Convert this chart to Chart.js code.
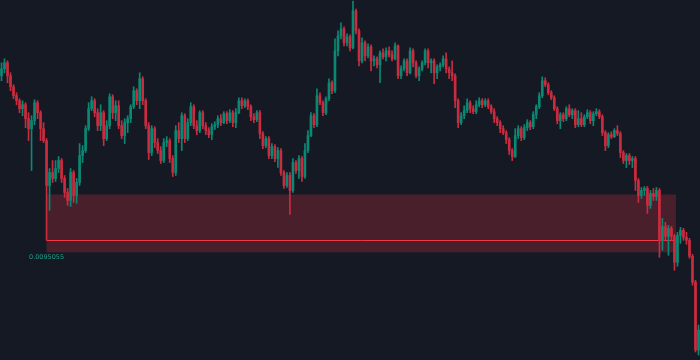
<!DOCTYPE html>
<html>
<head>
<meta charset="utf-8">
<script src="https://cdn.jsdelivr.net/npm/chart.js@4"></script>
<style>
    html, body { margin: 0; padding: 0; background: #151924; }
    #wrap { width: 700px; height: 360px; }
</style>
</head>
<body>
<div id="wrap"><canvas id="priceChart"></canvas></div>
<script>
// -------- Datos (precio en unidades del gráfico) --------

const firstOpen = 285;

const closes = [
    292, 298, 285, 274, 265, 260, 252, 256, 242, 232,
    240, 258, 248, 232, 220, 175, 188, 182, 192, 200,
    182, 168, 160, 188, 165, 178, 205, 210, 232, 252,
    260, 248, 235, 248, 222, 235, 264, 248, 255, 235,
    225, 238, 242, 254, 270, 260, 282, 260, 235, 208,
    232, 218, 210, 200, 218, 220, 202, 188, 230, 222,
    245, 222, 238, 254, 235, 230, 248, 235, 230, 226,
    234, 236, 242, 238, 247, 240, 248, 238, 248, 260,
    255, 260, 254, 244, 241, 248, 227, 215, 222, 205,
    214, 202, 210, 188, 175, 185, 170, 198, 190, 202,
    184, 210, 225, 245, 236, 265, 258, 248, 262, 278,
    270, 310, 325, 332, 318, 324, 313, 350, 330, 300,
    318, 305, 314, 300, 302, 296, 308, 304, 310, 306,
    302, 315, 285, 292, 300, 288, 310, 298, 285, 292,
    298, 310, 298, 300, 288, 294, 296, 302, 292, 288,
    285, 260, 238, 245, 250, 258, 252, 249, 256, 260,
    256, 260, 254, 249, 242, 238, 232, 228, 221, 210,
    204, 225, 232, 223, 233, 238, 234, 246, 254, 265,
    280, 276, 268, 263, 252, 240, 246, 242, 252, 246,
    250, 236, 242, 236, 244, 248, 240, 247, 249, 244,
    228, 215, 226, 224, 230, 227, 208, 200, 205, 200,
    202, 180, 165, 170, 172, 155, 167, 164, 170, 120,
    134, 124, 132, 124, 98, 125, 130, 123, 120, 104,
    78, 10, 30
];

const highs = [
    298, 302, 300, 288, 276, 268, 262, 260, 258, 248,
    245, 261, 260, 250, 238, 222, 192, 200, 200, 204,
    202, 185, 172, 192, 190, 182, 217, 215, 235, 258,
    264, 262, 252, 256, 250, 240, 267, 266, 260, 260,
    240, 242, 245, 256, 274, 272, 288, 284, 262, 238,
    235, 234, 222, 214, 222, 224, 222, 205, 235, 238,
    248, 247, 242, 258, 256, 240, 250, 250, 238, 233,
    237, 239, 245, 246, 249, 249, 251, 250, 252, 263,
    263, 262, 262, 256, 247, 250, 250, 229, 224, 224,
    217, 216, 213, 212, 190, 188, 188, 202, 200, 205,
    204, 217, 230, 248, 247, 272, 268, 260, 264, 282,
    280, 322, 330, 338, 334, 327, 326, 360, 352, 332,
    323, 320, 317, 316, 305, 304, 310, 312, 313, 314,
    310, 318, 316, 295, 302, 302, 313, 312, 300, 294,
    300, 312, 312, 302, 302, 296, 298, 305, 308, 294,
    300, 287, 262, 248, 255, 262, 260, 255, 260, 263,
    262, 262, 262, 256, 252, 244, 240, 235, 230, 223,
    212, 232, 235, 234, 236, 241, 240, 249, 256, 268,
    284, 283, 278, 270, 265, 254, 248, 248, 254, 256,
    252, 252, 250, 248, 246, 251, 250, 249, 252, 251,
    246, 230, 228, 229, 232, 235, 229, 210, 207, 207,
    204, 204, 182, 173, 174, 174, 170, 172, 173, 172,
    142, 138, 135, 134, 126, 128, 133, 132, 128, 122,
    106, 80, 35
];

const lows = [
    280, 288, 278, 270, 262, 256, 248, 245, 233, 220,
    190, 236, 242, 220, 218, 120, 150, 178, 179, 188,
    178, 163, 155, 154, 158, 157, 175, 198, 208, 230,
    250, 244, 230, 230, 215, 220, 232, 242, 240, 232,
    222, 217, 228, 238, 252, 256, 252, 256, 232, 201,
    205, 213, 207, 197, 198, 214, 198, 184, 185, 218,
    210, 218, 220, 235, 232, 226, 228, 232, 226, 223,
    221, 231, 233, 235, 237, 237, 238, 234, 233, 247,
    252, 253, 251, 240, 238, 239, 222, 212, 213, 202,
    202, 199, 193, 185, 172, 173, 146, 168, 187, 182,
    179, 182, 208, 224, 233, 234, 256, 245, 246, 260,
    267, 268, 305, 322, 315, 315, 310, 312, 327, 295,
    298, 300, 303, 290, 295, 293, 278, 302, 300, 304,
    300, 301, 282, 282, 290, 285, 287, 294, 283, 280,
    290, 296, 293, 288, 277, 282, 290, 294, 288, 282,
    280, 253, 233, 236, 242, 248, 248, 247, 247, 254,
    253, 254, 252, 247, 238, 235, 228, 226, 217, 206,
    200, 203, 222, 220, 221, 230, 231, 232, 242, 252,
    263, 274, 266, 261, 250, 237, 232, 239, 240, 244,
    242, 233, 234, 234, 234, 242, 237, 235, 245, 242,
    225, 210, 213, 222, 223, 225, 203, 197, 193, 196,
    193, 170, 158, 162, 165, 147, 152, 160, 160, 103,
    110, 120, 105, 120, 90, 94, 117, 120, 116, 102,
    75, 8, 5
];

// zona de demanda: velas de inicio/fin, precio inferior/superior, nivel
const zoneCandles = [15, 224.5];
const zonePrices = [108, 166];
const zoneLevel = 120;
const zoneLabel = '0.0095055';

const UP = '#0b8873';
const DOWN = '#c92c3f';

// -------- Velas --------

const opens = [firstOpen, ...closes.slice(0, -1)];
const labels = closes.map((_, i) => i);
const colors = closes.map((c, i) => c >= opens[i] ? UP : DOWN);

const bodies = closes.map((c, i) => [Math.min(opens[i], c), Math.max(opens[i], c)]);
const wicks = closes.map((_, i) => [lows[i], highs[i]]);

// -------- Zona --------

const zonePlugin = {
    id: 'zone',
    beforeDatasetsDraw(chart) {
        const { ctx, scales: { x, y } } = chart;
        const left = x.getPixelForValue(zoneCandles[0]);
        const right = x.getPixelForValue(zoneCandles[1]);
        const top = y.getPixelForValue(zonePrices[1]);
        const bottom = y.getPixelForValue(zonePrices[0]);
        const level = y.getPixelForValue(zoneLevel);

        ctx.save();
        ctx.fillStyle = 'rgba(242, 54, 69, 0.23)';
        ctx.fillRect(left, top, right - left, bottom - top);

        ctx.strokeStyle = '#f23645';
        ctx.lineWidth = 1;
        ctx.beginPath();
        ctx.moveTo(left, Math.round(level) + 0.5);
        ctx.lineTo(right, Math.round(level) + 0.5);
        ctx.stroke();
        ctx.restore();
    },
    afterDraw(chart) {
        const { ctx, scales: { x, y } } = chart;
        ctx.save();
        ctx.fillStyle = '#1f9e89';
        ctx.font = '6.5px "DejaVu Sans", sans-serif';
        ctx.textAlign = 'center';
        ctx.textBaseline = 'top';
        ctx.fillText(zoneLabel, x.getPixelForValue(zoneCandles[0]), y.getPixelForValue(zonePrices[0]) + 2);
        ctx.restore();
    }
};

new Chart(document.getElementById('priceChart'), {
    type: 'bar',
    data: {
        labels: labels,
        datasets: [
            {
                label: 'body',
                data: bodies,
                backgroundColor: colors,
                barThickness: 2,
                grouped: false,
                borderWidth: 0,
                minBarLength: 1
            },
            {
                label: 'wick',
                data: wicks,
                backgroundColor: colors,
                barThickness: 1,
                grouped: false,
                borderWidth: 0
            }
        ]
    },
    options: {
        responsive: true,
        maintainAspectRatio: false,
        animation: false,
        layout: { padding: 0 },
        plugins: {
            legend: { display: false },
            tooltip: { enabled: false }
        },
        scales: {
            x: { display: false, offset: true },
            y: { display: false, min: 0, max: 361 }
        }
    },
    plugins: [zonePlugin]
});
</script>
</body>
</html>
